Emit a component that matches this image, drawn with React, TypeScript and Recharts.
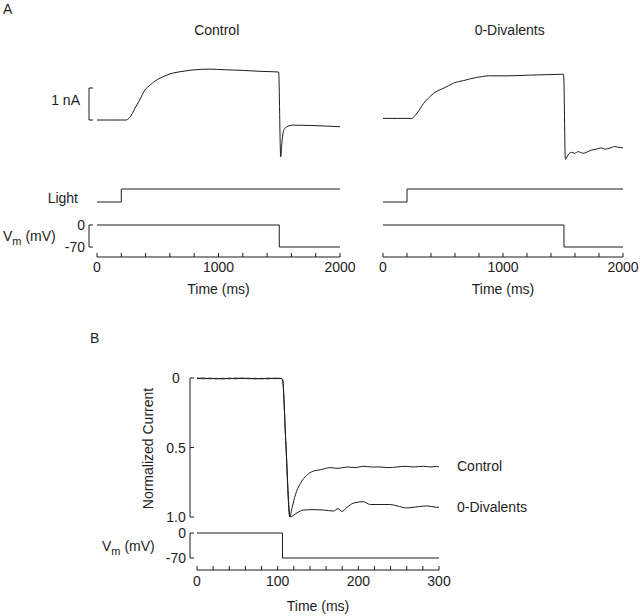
import { LineChart, Line, XAxis, YAxis } from "recharts";

const FONT = '"Liberation Sans", Arial, Helvetica, sans-serif';
const INK = "#1d1d1d";
const M = 6; // room round each plot box so edge strokes are not cut

// ---- Panel A: membrane current (nA) vs time (ms)
const currentControlA = [
  { t: 0, i: 0 }, { t: 120, i: 0 }, { t: 240, i: 0 }, { t: 262, i: 0.05 },
  { t: 290, i: 0.2 }, { t: 313, i: 0.37 }, { t: 350, i: 0.62 }, { t: 395, i: 0.94 },
  { t: 440, i: 1.1 }, { t: 477, i: 1.22 }, { t: 520, i: 1.31 }, { t: 560, i: 1.38 },
  { t: 600, i: 1.44 }, { t: 642, i: 1.48 }, { t: 724, i: 1.53 }, { t: 807, i: 1.57 },
  { t: 930, i: 1.59 }, { t: 1050, i: 1.57 }, { t: 1200, i: 1.55 }, { t: 1350, i: 1.52 },
  { t: 1495, i: 1.5 }, { t: 1512, i: -1.15 }, { t: 1522, i: -0.7 }, { t: 1533, i: -0.37 },
  { t: 1545, i: -0.27 }, { t: 1561, i: -0.21 }, { t: 1616, i: -0.16 }, { t: 1753, i: -0.17 },
  { t: 1890, i: -0.19 }, { t: 2000, i: -0.21 },
];

const currentDivalentA = [
  { t: 0, i: 0.05 }, { t: 120, i: 0.05 }, { t: 240, i: 0.05 }, { t: 270, i: 0.15 },
  { t: 300, i: 0.3 }, { t: 338, i: 0.52 }, { t: 380, i: 0.69 }, { t: 421, i: 0.83 },
  { t: 460, i: 0.92 }, { t: 504, i: 0.99 }, { t: 545, i: 1.07 }, { t: 587, i: 1.15 },
  { t: 630, i: 1.2 }, { t: 670, i: 1.23 }, { t: 720, i: 1.28 }, { t: 781, i: 1.33 },
  { t: 830, i: 1.36 }, { t: 878, i: 1.38 }, { t: 1031, i: 1.38 }, { t: 1200, i: 1.4 },
  { t: 1400, i: 1.42 }, { t: 1505, i: 1.43 }, { t: 1520, i: -1.23 }, { t: 1543, i: -1.09 },
  { t: 1571, i: -1.01 }, { t: 1598, i: -1.04 }, { t: 1626, i: -0.99 }, { t: 1668, i: -1.04 },
  { t: 1696, i: -1.01 }, { t: 1737, i: -0.94 }, { t: 1779, i: -0.91 }, { t: 1820, i: -0.87 },
  { t: 1848, i: -0.91 }, { t: 1890, i: -0.88 }, { t: 1931, i: -0.83 }, { t: 1958, i: -0.85 },
  { t: 2000, i: -0.87 },
];

const lightStep = [{ t: 0, v: 0 }, { t: 200, v: 1 }, { t: 2000, v: 1 }];
const vmStepA = [{ t: 0, v: 0 }, { t: 1500, v: -70 }, { t: 2000, v: -70 }];
const vmStepADiv = [{ t: 0, v: 0 }, { t: 1508, v: -70 }, { t: 2000, v: -70 }];

const timeTicksA = [0, 200, 400, 600, 800, 1000, 1200, 1400, 1600, 1800, 2000];
const timeLabelsA = [0, 1000, 2000];
const vmTicks = [-70, 0];
const scaleBarTicks = [0, 1];

// ---- Panel B: normalized tail current vs time (ms)
const normControlB = [
  { t: 0, n: 0 }, { t: 8, n: 0.006 }, { t: 16, n: 0.001 }, { t: 24, n: 0.007 },
  { t: 32, n: 0.002 }, { t: 40, n: 0.006 }, { t: 48, n: 0 }, { t: 56, n: 0.005 },
  { t: 64, n: 0.001 }, { t: 72, n: 0.007 }, { t: 80, n: 0.002 }, { t: 88, n: 0.006 },
  { t: 96, n: 0.001 }, { t: 104, n: 0.004 }, { t: 106, n: 0.01 }, { t: 110, n: 0.45 },
  { t: 115, n: 1.0 }, { t: 118, n: 0.93 }, { t: 122, n: 0.84 }, { t: 128, n: 0.76 },
  { t: 136, n: 0.7 }, { t: 144, n: 0.67 }, { t: 153, n: 0.66 }, { t: 165, n: 0.645 },
  { t: 175, n: 0.65 }, { t: 186, n: 0.64 }, { t: 196, n: 0.645 }, { t: 206, n: 0.635 },
  { t: 216, n: 0.64 }, { t: 227, n: 0.64 }, { t: 237, n: 0.645 }, { t: 248, n: 0.64 },
  { t: 258, n: 0.635 }, { t: 268, n: 0.64 }, { t: 281, n: 0.635 }, { t: 290, n: 0.64 },
  { t: 297, n: 0.635 }, { t: 300, n: 0.64 },
];

const normDivalentB = [
  { t: 0, n: 0.004 }, { t: 8, n: 0 }, { t: 16, n: 0.006 }, { t: 24, n: 0.002 },
  { t: 32, n: 0.007 }, { t: 40, n: 0.001 }, { t: 48, n: 0.006 }, { t: 56, n: 0 },
  { t: 64, n: 0.006 }, { t: 72, n: 0.002 }, { t: 80, n: 0.007 }, { t: 88, n: 0.001 },
  { t: 96, n: 0.005 }, { t: 104, n: 0.002 }, { t: 106, n: 0.01 }, { t: 110, n: 0.45 },
  { t: 115.5, n: 1.0 }, { t: 119, n: 0.99 }, { t: 124, n: 0.97 }, { t: 132, n: 0.95 },
  { t: 144, n: 0.947 }, { t: 157, n: 0.95 }, { t: 169, n: 0.957 }, { t: 175, n: 0.94 },
  { t: 179.5, n: 0.96 }, { t: 186, n: 0.93 }, { t: 194, n: 0.9 }, { t: 206, n: 0.89 },
  { t: 215, n: 0.91 }, { t: 227, n: 0.91 }, { t: 239, n: 0.91 }, { t: 248, n: 0.92 },
  { t: 260, n: 0.935 }, { t: 268, n: 0.93 }, { t: 276, n: 0.925 }, { t: 285, n: 0.92 },
  { t: 297, n: 0.93 }, { t: 300, n: 0.93 },
];

const vmStepB = [{ t: 0, v: 0 }, { t: 106, v: -70 }, { t: 300, v: -70 }];

const timeTicksB = [0, 20, 40, 60, 80, 100, 120, 140, 160, 180, 200, 220, 240, 260, 280, 300];
const timeLabelsB = [0, 100, 200, 300];
const normTicks = [0, 0.5, 1];

const textStyle = { fontFamily: FONT, fontSize: 14, fill: INK };

function Plot({ left, top, width, height, axisH = 0, children }: any) {
  return (
    <div style={{ position: "absolute", left: left - M, top: top - M }}>
      <LineChart
        width={width + 2 * M}
        height={height + 2 * M + axisH}
        margin={{ top: M, right: M, bottom: M, left: M }}
      >
        {children}
      </LineChart>
    </div>
  );
}

function trace(data: any[], key: string, type: any = "monotone") {
  return (
    <Line
      data={data}
      dataKey={key}
      type={type}
      stroke={INK}
      strokeWidth={1}
      dot={false}
      activeDot={false}
      isAnimationActive={false}
    />
  );
}

// label of a bracket axis, drawn to the left of the "[" shape
function bracketTick(dx: number, anchor: string, fmt: (v: number) => string) {
  return (p: any) => (
    <text x={p.x + dx} y={p.y} dy="0.38em" textAnchor={anchor} {...textStyle}>
      {fmt(p.payload.value)}
    </text>
  );
}

// tick mark pointing up from the time axis, number underneath
function timeTick(labels: number[], gap: number) {
  return (p: any) => (
    <g>
      <line x1={p.x} x2={p.x} y1={p.y} y2={p.y - 4} stroke={INK} />
      {labels.includes(p.payload.value) && (
        <text x={p.x} y={p.y + gap} textAnchor="middle" {...textStyle}>
          {p.payload.value}
        </text>
      )}
    </g>
  );
}

function TimeAxis({ left, width, axisY, max, ticks, labels, gap, axisH }: any) {
  return (
    <Plot left={left} top={axisY - 5} width={width} height={5} axisH={axisH}>
      <XAxis
        type="number"
        dataKey="t"
        domain={[0, max]}
        ticks={ticks}
        interval={0}
        allowDataOverflow
        tickLine={false}
        tickSize={0}
        tickMargin={0}
        axisLine={{ stroke: INK }}
        tick={timeTick(labels, gap)}
        height={axisH}
        label={{ value: "Time (ms)", position: "insideBottom", offset: 0, ...textStyle }}
      />
    </Plot>
  );
}

function Vm({ x, y }: any) {
  return (
    <text x={x} y={y} {...textStyle}>
      <tspan>V</tspan>
      <tspan dy={4} fontSize={11}>m</tspan>
      <tspan dy={-4}> (mV)</tspan>
    </text>
  );
}

const bracketAxis = {
  type: "number" as const,
  mirror: true,
  interval: 0,
  tickSize: 4,
  tickMargin: 0,
  axisLine: { stroke: INK },
  tickLine: { stroke: INK },
};

export default function App() {
  return (
    <div style={{ position: "relative", width: 640, height: 616, background: "#fff" }}>
      <style>{"body{margin:0}.recharts-surface{overflow:visible}"}</style>

      {/* A, Control */}
      <Plot left={97} top={56} width={243} height={112}>
        <XAxis type="number" dataKey="t" domain={[0, 2000]} hide />
        <YAxis type="number" domain={[-1.5, 2]} hide />
        {trace(currentControlA, "i")}
      </Plot>
      <Plot left={89} top={88} width={4} height={32}>
        <YAxis {...bracketAxis} domain={[0, 1]} ticks={scaleBarTicks} allowDataOverflow tick={() => <g />} />
      </Plot>
      <Plot left={97} top={189} width={243} height={13}>
        <XAxis type="number" dataKey="t" domain={[0, 2000]} hide />
        <YAxis type="number" domain={[0, 1]} hide />
        {trace(lightStep, "v", "stepAfter")}
      </Plot>
      <Plot left={89} top={225} width={251} height={22}>
        <XAxis type="number" dataKey="t" domain={[0, 2000]} hide padding={{ left: 8, right: 0 }} />
        <YAxis {...bracketAxis} domain={[-70, 0]} ticks={vmTicks} tick={bracketTick(-8, "end", (v) => String(v))} />
        {trace(vmStepA, "v", "stepAfter")}
      </Plot>
      <TimeAxis left={97} width={243} axisY={257} max={2000} ticks={timeTicksA} labels={timeLabelsA} gap={15} axisH={37} />

      {/* A, 0-Divalents */}
      <Plot left={383} top={56} width={240} height={112}>
        <XAxis type="number" dataKey="t" domain={[0, 2000]} hide />
        <YAxis type="number" domain={[-1.5, 2]} hide />
        {trace(currentDivalentA, "i")}
      </Plot>
      <Plot left={383} top={188.5} width={240} height={13}>
        <XAxis type="number" dataKey="t" domain={[0, 2000]} hide />
        <YAxis type="number" domain={[0, 1]} hide />
        {trace(lightStep, "v", "stepAfter")}
      </Plot>
      <Plot left={383} top={224.5} width={240} height={22}>
        <XAxis type="number" dataKey="t" domain={[0, 2000]} hide />
        <YAxis type="number" domain={[-70, 0]} hide />
        {trace(vmStepADiv, "v", "stepAfter")}
      </Plot>
      <TimeAxis left={383} width={240} axisY={257} max={2000} ticks={timeTicksA} labels={timeLabelsA} gap={15} axisH={37} />

      {/* B */}
      <Plot left={190} top={377.7} width={249} height={139}>
        <XAxis type="number" dataKey="t" domain={[0, 300]} hide padding={{ left: 7, right: 0 }} />
        <YAxis
          {...bracketAxis}
          domain={[0, 1]}
          ticks={normTicks}
          reversed
          tick={bracketTick(-18, "middle", (v) => (v === 0 ? "0" : v.toFixed(1)))}
        />
        {trace(normControlB, "n")}
        {trace(normDivalentB, "n")}
      </Plot>
      <Plot left={190} top={533.3} width={249} height={25}>
        <XAxis type="number" dataKey="t" domain={[0, 300]} hide padding={{ left: 7, right: 0 }} />
        <YAxis {...bracketAxis} domain={[-70, 0]} ticks={vmTicks} tick={bracketTick(-8, "end", (v) => String(v))} />
        {trace(vmStepB, "v", "stepAfter")}
      </Plot>
      <TimeAxis left={197} width={242} axisY={570} max={300} ticks={timeTicksB} labels={timeLabelsB} gap={16} axisH={41} />

      {/* free labels */}
      <svg width={640} height={616} style={{ position: "absolute", left: 0, top: 0, pointerEvents: "none" }}>
        <text x={3} y={13.5} {...textStyle}>A</text>
        <text x={216.7} y={35} textAnchor="middle" {...textStyle}>Control</text>
        <text x={509.7} y={35} textAnchor="middle" {...textStyle}>0-Divalents</text>
        <text x={80} y={105} textAnchor="end" {...textStyle}>1 nA</text>
        <text x={78} y={203} textAnchor="end" {...textStyle}>Light</text>
        <Vm x={3} y={241} />
        <text x={90} y={343} {...textStyle}>B</text>
        <text x={153} y={448.5} textAnchor="middle" transform="rotate(-90 153 448.5)" {...textStyle}>
          Normalized Current
        </text>
        <text x={457} y={471} {...textStyle}>Control</text>
        <text x={457} y={511.5} {...textStyle}>0-Divalents</text>
        <Vm x={102} y={551} />
      </svg>
    </div>
  );
}
